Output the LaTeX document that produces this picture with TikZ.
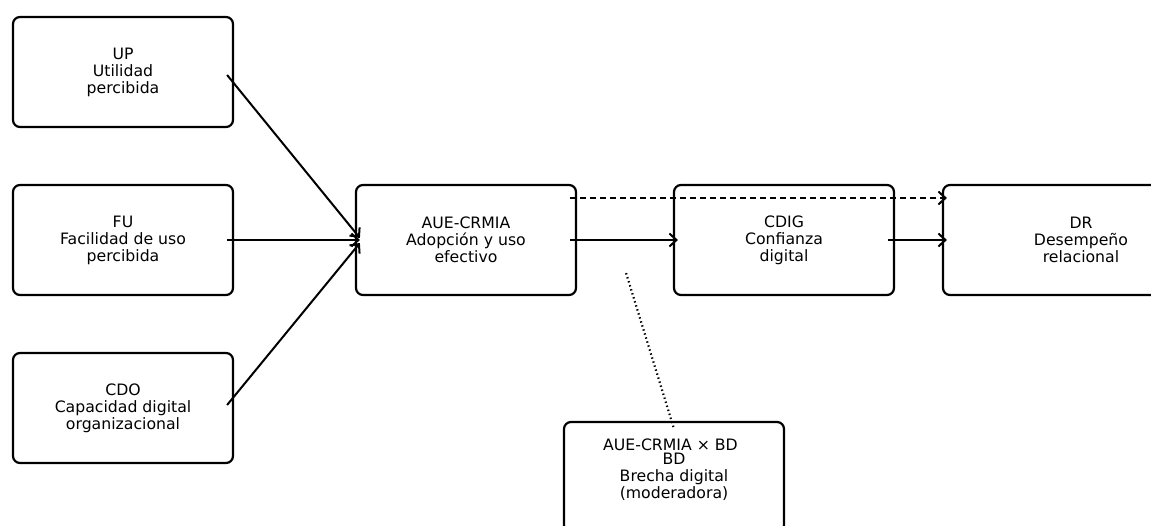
\documentclass[tikz,border=0pt]{standalone}
\usepackage{fontspec}
\setmainfont{DejaVu Sans}
\usetikzlibrary{arrows.meta,calc}
\begin{document}
\begin{tikzpicture}[x=1pt,y=-1pt,
  box/.style={draw, line width=2.2pt, rounded corners=7pt, minimum width=220pt, minimum height=110pt, align=center, font=\fontsize{15.7}{17}\selectfont, inner sep=0pt},
  conn/.style={line width=2pt, -{Straight Barb[length=7pt,width=13pt]}},
  lbl/.style={font=\fontsize{15.7}{17}\selectfont, inner sep=0pt}]
\useasboundingbox (0,0) rectangle (1151,526);
\clip (0,0) rectangle (1151,526);
\node[box] (UP) at (123,72) {UP\\Utilidad\\percibida};
\node[box] (FU) at (123,240) {FU\\Facilidad de uso\\percibida};
\node[box] (CDO) at (123,408) {CDO\\Capacidad digital\\organizacional};
\node[box] (AUE) at (466,240) {AUE-CRMIA\\Adopción y uso\\efectivo};
\node[box] (CDIG) at (784,240) {CDIG\\Confianza\\digital};
\node[box, minimum width=276pt] (DR) at (1081,240) {DR\\Desempeño\\relacional};
\node[box] (BD) at (674,477) {BD\\Brecha digital\\(moderadora)};
\node[lbl] (INT) at (670.5,445) {AUE-CRMIA × BD};
\draw[conn] ($(UP.east)+(-7,3)$) -- ($(AUE.west)+(5,-2)$);
\draw[conn] ($(FU.east)+(-7,0)$) -- ($(AUE.west)+(5,0)$);
\draw[conn] ($(CDO.east)+(-7,-3)$) -- ($(AUE.west)+(5,3)$);
\draw[conn] ($(AUE.east)+(-7,0)$) -- ($(CDIG.west)+(5,0)$);
\draw[conn] ($(CDIG.east)+(-7,0)$) -- ($(DR.west)+(5,0)$);
\draw[conn, dash pattern=on 6pt off 4pt] ($(AUE.east)+(-7,-42)$) -- ($(DR.west)+(5,-42)$);
\draw[line width=2.2pt, dash pattern=on 1.4pt off 2.8pt] ($(AUE.south east)+(49,-23)$) -- ($(BD.north)+(0,8)$);
\end{tikzpicture}
\end{document}
